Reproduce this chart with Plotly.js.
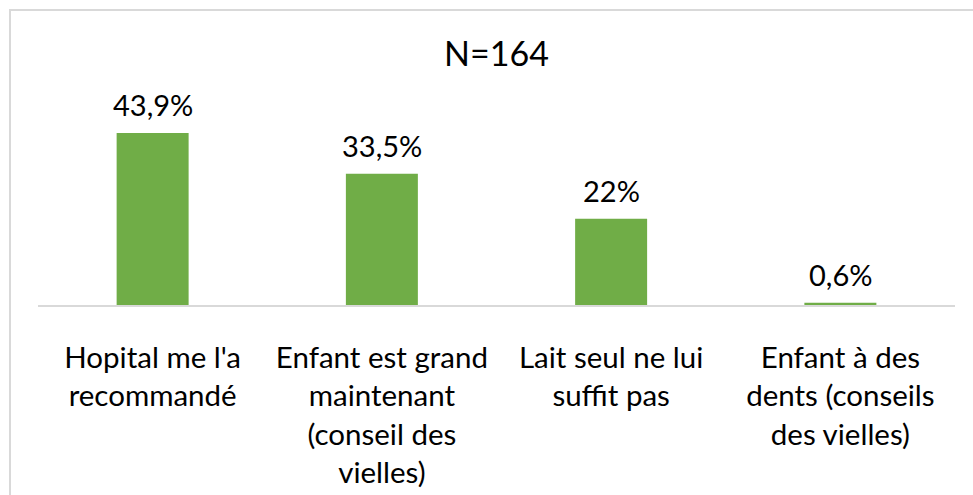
<!DOCTYPE html>
<html>
<head>
<meta charset="utf-8">
<script src="https://cdn.plot.ly/plotly-3.0.1.min.js"></script>
<style>
  body { margin: 0; background: #fff; overflow: hidden; }
  #chart { width: 973px; height: 495px; }
  #frame { position: absolute; left: 9px; top: 9px; width: 1000px; height: 600px;
           border: 2px solid #d9d9d9; pointer-events: none; }
</style>
</head>
<body>
<div id="chart"></div>
<div id="frame"></div>
<script>
// chart data
var categories = [
  "Hopital me l'a<br>recommandé",
  "Enfant est grand<br>maintenant<br>(conseil des<br>vielles)",
  "Lait seul ne lui<br>suffit pas",
  "Enfant à des<br>dents (conseils<br>des vielles)"
];
var values = [43.9, 33.5, 22, 0.6];
var chartTitle = "N=164";

var font = "Lato, 'Open Sans', sans-serif";

// labels like 43,9%
var labels = values.map(function (v) { return String(v).replace(".", ",") + "%"; });

var trace = {
  type: "bar",
  x: categories,
  y: values,
  marker: { color: "#70ad47" },
  hoverinfo: "none"
};

var notes = categories.map(function (c, i) {
  return {
    x: c, y: values[i], text: labels[i],
    showarrow: false, yanchor: "bottom", yshift: 9,
    font: { family: font, size: 29, color: "#000" }
  };
});

var layout = {
  width: 973,
  height: 495,
  margin: { l: 38, r: 18, t: 109, b: 190 },
  paper_bgcolor: "#fff",
  plot_bgcolor: "#fff",
  showlegend: false,
  bargap: 0.686,
  title: {
    text: chartTitle,
    font: { family: font, size: 34, color: "#000" },
    x: 0.5, xref: "paper",
    y: 1 - 54 / 495, yref: "container", yanchor: "middle"
  },
  xaxis: {
    type: "category",
    showline: true,
    linecolor: "#d9d9d9",
    linewidth: 1.5,
    ticks: "",
    ticklabelstandoff: 26,
    tickfont: { family: font, size: 29.5, color: "#000" }
  },
  yaxis: {
    range: [0, 50],
    visible: false,
    showgrid: false,
    zeroline: false
  },
  annotations: notes
};

Plotly.newPlot("chart", [trace], layout, { displayModeBar: false, staticPlot: true });
</script>
</body>
</html>
